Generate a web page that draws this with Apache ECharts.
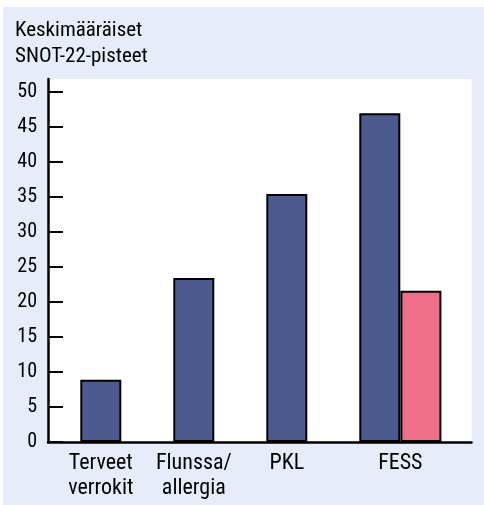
<!DOCTYPE html>
<html>
<head>
<meta charset="utf-8">
<script src="https://cdn.jsdelivr.net/npm/echarts@6/dist/echarts.min.js"></script>
<style>
html,body{margin:0;padding:0;background:#ffffff;}
#chart{width:484px;height:505px;}
</style>
</head>
<body>
<div id="chart"></div>
<script>
const categories = ['Terveet\nverrokit', 'Flunssa/\nallergia', 'PKL', 'FESS'];
const blueValues = [8.9, 23.4, 35.4, 46.9];
const pinkValues = ['-', '-', '-', 21.6];
const yTickValues = [0, 5, 10, 15, 20, 25, 30, 35, 40, 45, 50];
const titleLines = ['Keskimääräiset', 'SNOT-22-pisteet'];

const FONT = 'Roboto Condensed';
const chart = echarts.init(document.getElementById('chart'), null, {renderer: 'canvas'});

const TOP = 79, BOTTOM = 63, YMAX = 51.8;

chart.setOption({
  animation: false,
  backgroundColor: '#ffffff',
  graphic: [
    {type: 'rect', z: -10, shape: {x: 3, y: 7, width: 481, height: 498}, style: {fill: '#e6edf8'}},
    {type: 'text', left: 15, top: 18, style: {text: titleLines.join('\n'), fontSize: 21, fontFamily: FONT, lineHeight: 26, fill: '#000'}}
  ],
  grid: [
    {left: 48, right: 12.5, top: TOP, bottom: BOTTOM, show: true, backgroundColor: '#ffffff', borderWidth: 0},
    {left: 54.3, width: 372, top: TOP, bottom: BOTTOM},
    {left: 95.4, width: 372, top: TOP, bottom: BOTTOM}
  ],
  xAxis: [
    {gridIndex: 0, type: 'value', min: 0, max: 1, axisLine: {show: true, lineStyle: {color: '#000', width: 2.5}},
     axisTick: {show: false}, axisLabel: {show: false}, splitLine: {show: false}},
    {gridIndex: 1, type: 'category', data: categories, axisLine: {show: false}, axisTick: {show: false},
     axisLabel: {
       interval: 0, margin: 9, fontSize: 22, lineHeight: 25, color: '#000', fontFamily: FONT,
       formatter: function (v) { return v === 'FESS' ? '{f|' + v + '}' : v; },
       rich: {f: {fontSize: 22, lineHeight: 25, color: '#000', fontFamily: FONT, padding: [0, 0, 0, 41]}}
     }},
    {gridIndex: 2, type: 'category', data: categories, show: false}
  ],
  yAxis: [
    {gridIndex: 0, type: 'value', min: 0, max: YMAX, interval: 5,
     axisLine: {show: true, lineStyle: {color: '#000', width: 2.5}},
     axisTick: {show: true, inside: true, length: 15, lineStyle: {color: '#000', width: 2}, customValues: yTickValues},
     axisLabel: {margin: 11, fontSize: 20, color: '#000', fontFamily: FONT, customValues: yTickValues},
     splitLine: {show: false}},
    {gridIndex: 1, type: 'value', min: 0, max: YMAX, show: false, splitLine: {show: false}},
    {gridIndex: 2, type: 'value', min: 0, max: YMAX, show: false, splitLine: {show: false}}
  ],
  series: [
    {type: 'bar', xAxisIndex: 1, yAxisIndex: 1, data: blueValues, barWidth: 41,
     itemStyle: {color: '#4b5b8f', borderColor: '#000', borderWidth: 2}},
    {type: 'bar', xAxisIndex: 2, yAxisIndex: 2, data: pinkValues, barWidth: 41,
     itemStyle: {color: '#ef6e88', borderColor: '#000', borderWidth: 2}}
  ]
});
</script>
</body>
</html>
